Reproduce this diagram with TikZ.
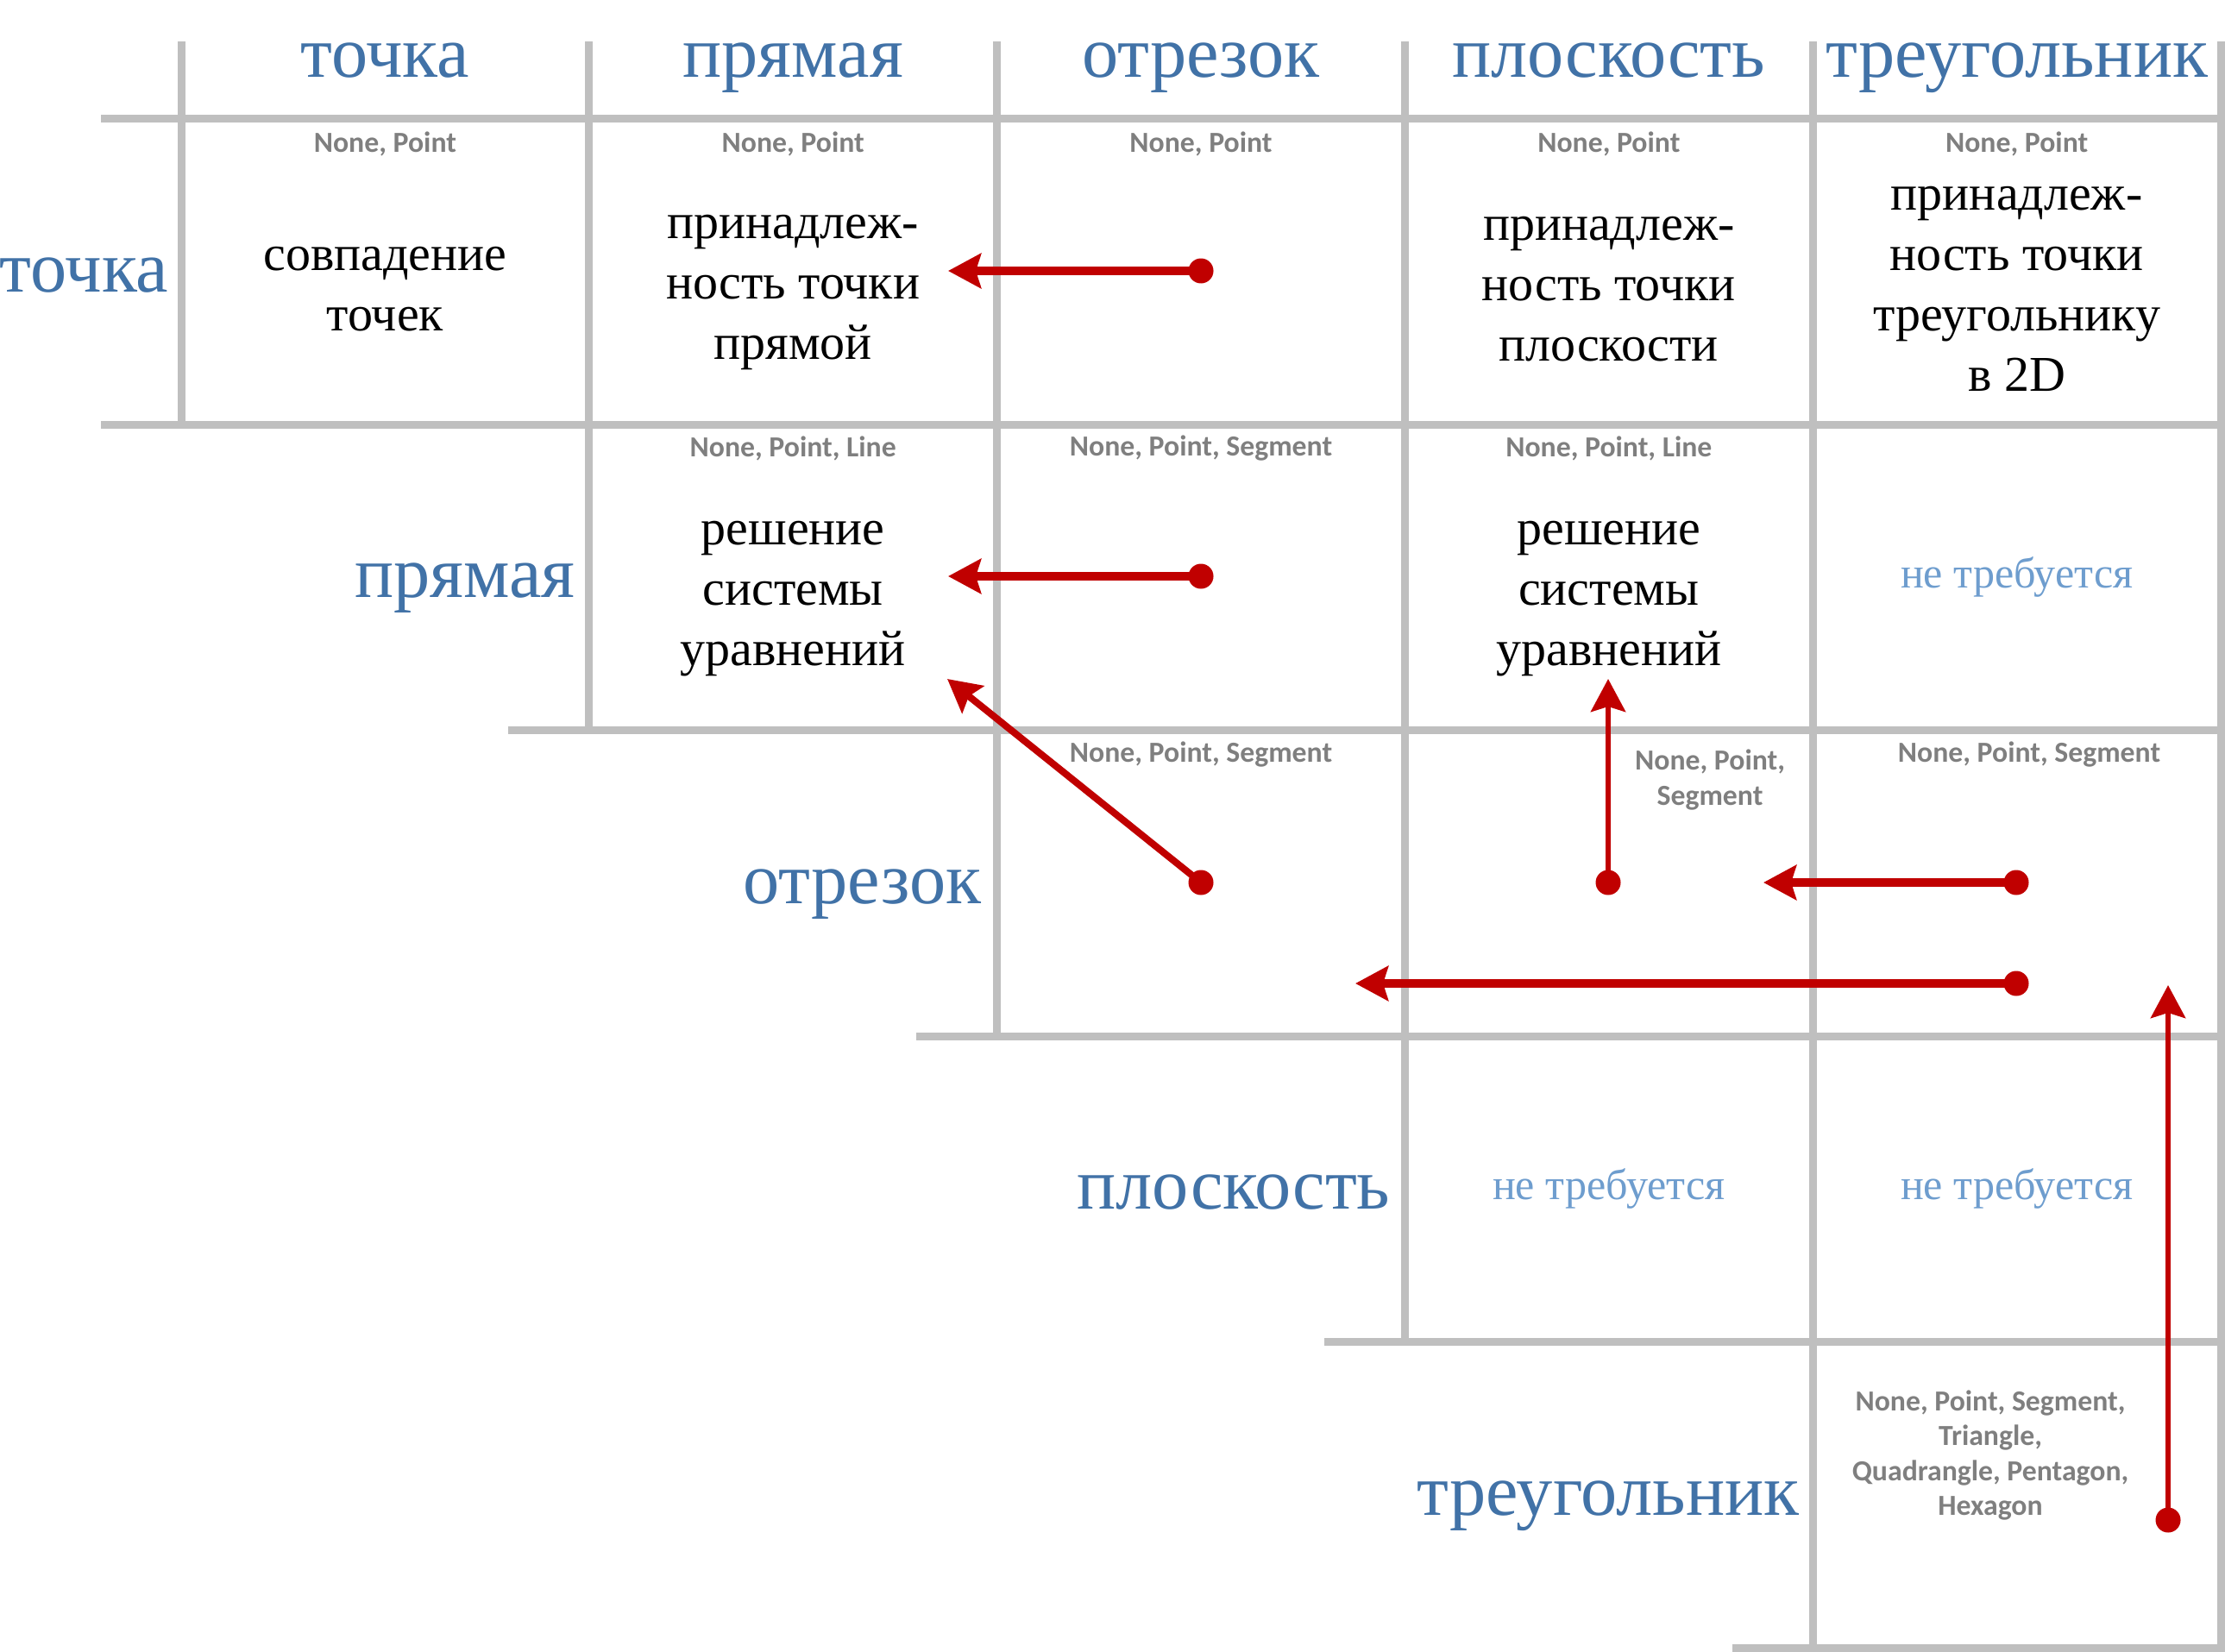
\documentclass[tikz,border=0pt]{standalone}
\usepackage{fontspec}
\setmainfont{Liberation Serif}
\newfontfamily\tagfont{Carlito}
\definecolor{headblue}{RGB}{65, 114, 167}
\definecolor{softblue}{RGB}{110, 157, 206}
\definecolor{linkred}{RGB}{192, 0, 0}
\definecolor{gridgray}{RGB}{191, 191, 191}
\definecolor{taggray}{RGB}{127, 127, 127}
\usetikzlibrary{arrows.meta, positioning, calc}

\tikzset{
  gridline/.style={draw=gridgray, line width=0.09cm},
  headtext/.style={text=headblue, inner sep=0pt, font=\fontsize{24}{28}\selectfont},
  celltext/.style={align=center, inner sep=0pt, font=\fontsize{16.5}{19.9}\selectfont},
  tagtext/.style={text=taggray, align=center, inner sep=0pt, font=\tagfont\bfseries\fontsize{9.6}{11.5}\selectfont},
  notneeded/.style={text=softblue, inner sep=0pt, font=\fontsize{14.25}{16}\selectfont},
  enddot/.style={circle, fill=linkred, minimum size=0.29cm, inner sep=0pt},
  arrowline/.style={draw=linkred, line width=0.10cm, -{Stealth[length=0.38cm, width=0.40cm, inset=0.06cm]}},
}

\begin{document}
\begin{tikzpicture}
  \useasboundingbox (0,0) rectangle (25.79,-19.14);

  % grid
  \foreach \j/\b in {0/4.965, 1/8.51, 2/12.055, 3/15.6, 4/19.145, 5/19.145}
    \draw[gridline] ({2.10+4.728*\j}, -0.48) -- ({2.10+4.728*\j}, -\b);
  \foreach \i/\s in {0/1.17, 1/1.17, 2/5.89, 3/10.62, 4/15.35, 5/20.08}
    \draw[gridline] (\s, {-1.375-3.545*\i}) -- (25.74, {-1.375-3.545*\i});

  % column and row heads
  \foreach \j/\name in {1/точка, 2/прямая, 3/отрезок, 4/плоскость, 5/треугольник}
    \node[headtext, anchor=base] (h\j) at ({2.10+4.728*\j-2.364}, -0.90) {\name};
  \node[headtext, anchor=base east] (r1) at (1.96, -3.38) {точка};
  \node[headtext, anchor=base east] (r2) at (6.67, -6.92) {прямая};
  \node[headtext, anchor=base east] (r3) at (11.38, -10.47) {отрезок};
  \node[headtext, anchor=base east] (r4) at (16.12, -14.01) {плоскость};
  \node[headtext, anchor=base east] (r5) at (20.86, -17.56) {треугольник};

  % cells
  \node[tagtext] (g11) at (4.464, -1.67) {None, Point};
  \node[tagtext] (g12) at (9.192, -1.67) {None, Point};
  \node[tagtext] (g13) at (13.92, -1.67) {None, Point};
  \node[tagtext] (g14) at (18.648, -1.67) {None, Point};
  \node[tagtext] (g15) at (23.376, -1.67) {None, Point};
  \node[tagtext] (g22) at (9.192, -5.20) {None, Point, Line};
  \node[tagtext] (g23) at (13.92, -5.20) {None, Point, Segment};
  \node[tagtext] (g24) at (18.648, -5.20) {None, Point, Line};
  \node[tagtext] (g33) at (13.92, -8.75) {None, Point, Segment};
  \node[tagtext] (g34) at (19.82, -9.04) {None, Point,\\Segment};
  \node[tagtext] (g35) at (23.52, -8.75) {None, Point, Segment};
  \node[tagtext] (g55) at (23.07, -16.87) {None, Point, Segment,\\Triangle,\\Quadrangle, Pentagon,\\Hexagon};

  \node[celltext] (c11) at (4.464, -3.35) {совпадение\\точек};
  \node[celltext] (c12) at (9.192, -3.39) {принадлеж-\\ность точки\\прямой};
  \node[celltext] (c14) at (18.648, -3.35) {принадлеж-\\ность точки\\плоскости};
  \node[celltext] (c15) at (23.376, -3.35) {принадлеж-\\ность точки\\треугольнику\\в 2D};
  \node[celltext] (c22) at (9.192, -6.94) {решение\\системы\\уравнений};
  \node[celltext] (c24) at (18.648, -6.94) {решение\\системы\\уравнений};
  \node[notneeded] (n25) at (23.376, -6.69) {не требуется};
  \node[notneeded] (n44) at (18.648, -13.78) {не требуется};
  \node[notneeded] (n45) at (23.376, -13.78) {не требуется};

  % reductions
  \node[enddot] (d13) at (13.92, -3.14) {};
  \node[enddot] (d23) at (13.92, -6.68) {};
  \node[enddot] (d33) at (13.92, -10.23) {};
  \node[enddot] (d34) at (18.64, -10.23) {};
  \node[enddot] (d35) at (23.37, -10.23) {};
  \node[enddot] (d35b) at (23.37, -11.40) {};
  \node[enddot] (d55) at (25.13, -17.62) {};
  \coordinate (t13) at (10.99, -3.14);
  \coordinate (t23) at (10.99, -6.68);
  \coordinate (t33) at (10.98, -7.87);
  \coordinate (t34) at (18.64, -7.87);
  \coordinate (t35) at (20.44, -10.23);
  \coordinate (t35b) at (15.71, -11.40);
  \coordinate (t55) at (25.13, -11.42);

  \draw[arrowline] (d13.center) -- (t13);
  \draw[arrowline] (d23.center) -- (t23);
  \draw[arrowline, line width=0.08cm] (d33.center) -- (t33);
  \draw[arrowline, line width=0.065cm] (d34.center) -- (t34);
  \draw[arrowline] (d35.center) -- (t35);
  \draw[arrowline] (d35b.center) -- (t35b);
  \draw[arrowline, line width=0.065cm] (d55.center) -- (t55);
\end{tikzpicture}
\end{document}
